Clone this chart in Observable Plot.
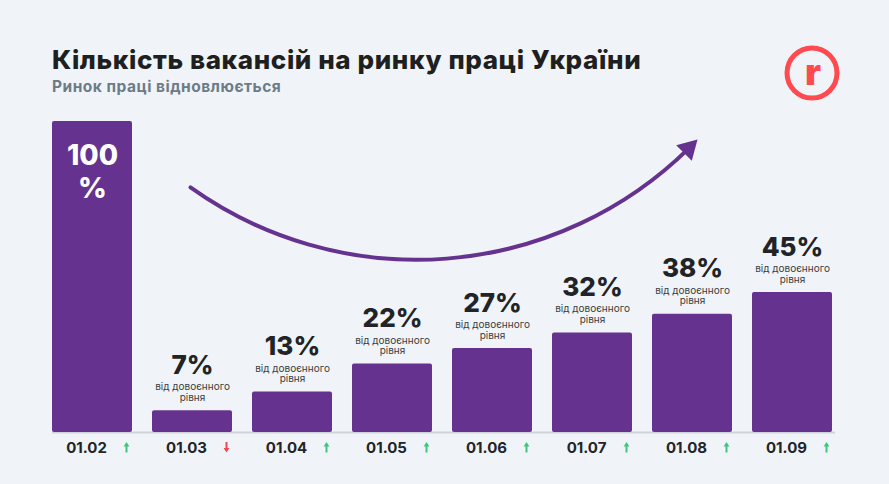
<!DOCTYPE html>
<html>
<head>
<meta charset="utf-8">
<script src="https://cdn.jsdelivr.net/npm/d3@7"></script>
<script src="https://cdn.jsdelivr.net/npm/@observablehq/plot@0.6"></script>
<style>
  html, body { margin: 0; padding: 0; background: #f0f4f8; }
  #wrap { position: relative; width: 889px; height: 484px; background: #f0f4f8; font-family: Inter, "Noto Sans", sans-serif; overflow: hidden; }
  #header { position: relative; width: 889px; height: 110px; }
  #title { position: absolute; left: 52px; top: 47px; font-size: 26px; line-height: 26px; font-weight: 800; color: #1e1f21; white-space: nowrap; letter-spacing: 0.6px; }
  #subtitle { position: absolute; left: 52px; top: 79px; font-size: 15.5px; line-height: 15.5px; font-weight: 700; color: #6c7b87; white-space: nowrap; letter-spacing: 0.5px; }
  #logo { position: absolute; left: 784px; top: 45px; }
  #chart svg { display: block; }
</style>
</head>
<body>
<div id="wrap">
  <div id="header">
    <div id="title">Кількість вакансій на ринку праці України</div>
    <div id="subtitle">Ринок праці відновлюється</div>
    <svg id="logo" width="56" height="56" viewBox="0 0 56 56">
      <circle cx="28" cy="28" r="25" fill="none" stroke="#ff4b4f" stroke-width="5"/>
      <text x="29" y="40" text-anchor="middle" font-family="Inter, sans-serif" font-weight="900" font-size="37" fill="#ff4b4f">r</text>
    </svg>
  </div>
  <div id="chart"></div>
</div>
<script>
const categories = ["01.02", "01.03", "01.04", "01.05", "01.06", "01.07", "01.08", "01.09"];
const values = [100, 7, 13, 22, 27, 32, 38, 45];
const directions = ["up", "down", "up", "up", "up", "up", "up", "up"];
const noteText = "від довоєнного\nрівня";
// decorative trend arrow endpoints (x in bar-index units, y in % units)
const trendX = [0.98, 5.96];
const trendY = [78.8, 91.3];

const data = categories.map((c, i) => ({ i, c, v: values[i], dir: directions[i] }));
const purple = "#65338f";

// small filled arrow shape: stem + triangular head
const smallArrow = {
  draw(context, l) {
    const h = 4.5, w = 2.9, s = 1;
    context.moveTo(-s, 0);
    context.lineTo(-s, -l + h);
    context.lineTo(-w, -l + h);
    context.lineTo(0, -l);
    context.lineTo(w, -l + h);
    context.lineTo(s, -l + h);
    context.lineTo(s, 0);
    context.closePath();
  }
};

const chart = Plot.plot({
  width: 889,
  height: 374,
  marginTop: 11,
  marginBottom: 52,
  marginLeft: 92,
  marginRight: 97,
  x: { type: "linear", domain: [0, categories.length - 1], axis: null },
  y: { domain: [0, 100], axis: null },
  style: { background: "transparent", fontFamily: "Inter, 'Noto Sans', sans-serif", overflow: "visible" },
  marks: [
    Plot.ruleY([0], { x1: -0.4, x2: categories.length - 1 + 0.43, stroke: "#cfd4db", strokeWidth: 2 }),
    Plot.rectY(data, { x1: d => d.i - 0.4, x2: d => d.i + 0.4, y: "v", fill: purple, rx: 2 }),
    Plot.text(data.filter(d => d.i === 0), {
      x: "i", y: "v", text: d => d.v + "\n%", lineAnchor: "top", dy: 21,
      fontSize: 28, fontWeight: 800, fill: "white", lineHeight: 1.15
    }),
    Plot.text(data.filter(d => d.i > 0), {
      x: "i", y: "v", text: d => d.v + "%", lineAnchor: "bottom", dy: -37,
      fontSize: 26, fontWeight: 800, fill: "#222326"
    }),
    Plot.text(data.filter(d => d.i > 0), {
      x: "i", y: "v", text: () => noteText, lineAnchor: "bottom", dy: -10,
      fontSize: 10, lineHeight: 1.05, fill: "#3b3c40"
    }),
    Plot.text(data, {
      x: "i", y: 0, text: "c", lineAnchor: "bottom", dy: 20, dx: -6,
      fontSize: 15, fontWeight: 700, fill: "#232427"
    }),
    Plot.vector(data.filter(d => d.dir === "up"), {
      x: "i", y: 0, length: 10.5, anchor: "start", rotate: 0, dx: 34, dy: 20,
      shape: smallArrow, fill: "#3ec77a", stroke: "none"
    }),
    Plot.vector(data.filter(d => d.dir === "down"), {
      x: "i", y: 0, length: 10.5, anchor: "start", rotate: 180, dx: 34, dy: 9.5,
      shape: smallArrow, fill: "#f0474f", stroke: "none"
    }),
    Plot.arrow([{ x1: trendX[0], y1: trendY[0], x2: trendX[1], y2: trendY[1] }], {
      x1: "x1", y1: "y1", x2: "x2", y2: "y2", bend: -40,
      stroke: purple, strokeWidth: 4, headLength: 0
    }),
    Plot.dot([{ x: trendX[1], y: trendY[1] }], {
      x: "x", y: "y", symbol: "triangle", r: 8.2, fill: purple, rotate: 45
    })
  ]
});
document.getElementById("chart").appendChild(chart);
</script>
</body>
</html>
